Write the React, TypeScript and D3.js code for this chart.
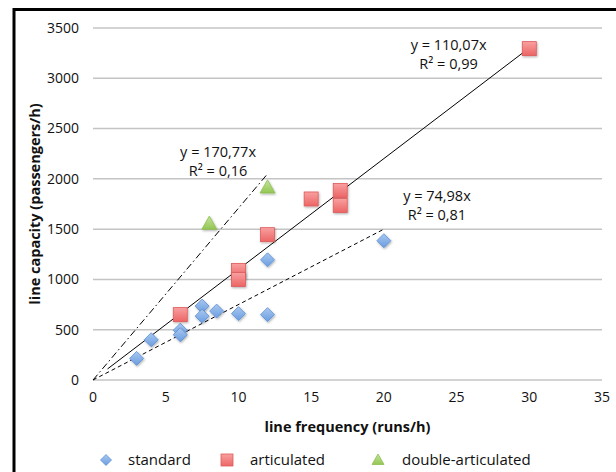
import * as d3 from "d3";

const standardX = [3, 4, 6, 6, 7.5, 7.5, 8.5, 10, 12, 12, 20];
const standardY = [215, 400, 495, 450, 735, 635, 685, 660, 1195, 650, 1385];
const articulatedX = [6, 10, 10, 12, 15, 17, 17, 30];
const articulatedY = [650, 1090, 1000, 1445, 1800, 1885, 1735, 3295];
const doubleX = [8, 12];
const doubleY = [1555, 1915];

const yTicks = [0, 500, 1000, 1500, 2000, 2500, 3000, 3500];
const xTicks = [0, 5, 10, 15, 20, 25, 30, 35];

// trendlines: slope, x range, dash, label lines, label anchor in data units
const trends = [
  { slope: 110.07, from: 1, to: 30, dash: "none", eq: "y = 110,07x", r2: "R² = 0,99", lx: 24.45, ly: 3280 },
  { slope: 170.77, from: 0, to: 12, dash: "7,3,1.5,3", eq: "y = 170,77x", r2: "R² = 0,16", lx: 8.6, ly: 2215 },
  { slope: 74.98, from: 0, to: 20, dash: "4,3", eq: "y = 74,98x", r2: "R² = 0,81", lx: 23.65, ly: 1780 },
];

const W = 616;
const H = 472;
const font = "'Open Sans', sans-serif";

export default function App() {
  const x = d3.scaleLinear([0, 35], [93, 602]);
  const y = d3.scaleLinear([0, 3500], [380, 28]);
  const line = d3.line<number>((d) => x(d[0]), (d) => y(d[1]));

  const standard = standardX.map((v, i) => [v, standardY[i]]);
  const articulated = articulatedX.map((v, i) => [v, articulatedY[i]]);
  const dbl = doubleX.map((v, i) => [v, doubleY[i]]);

  const diamond = (cx: number, cy: number, r: number) =>
    `M${cx},${cy - r}L${cx + r},${cy}L${cx},${cy + r}L${cx - r},${cy}Z`;
  const tri = (cx: number, cy: number, r: number) =>
    `M${cx},${cy - r}L${cx + r},${cy + r * 0.75}L${cx - r},${cy + r * 0.75}Z`;

  return (
    <svg width={W} height={H} style={{ position: "absolute", left: 0, top: 0, background: "white" }} fontFamily={font}>
      <defs>
        <linearGradient id="gb" x1="0" y1="0" x2="0" y2="1">
          <stop offset="0" stopColor="#a9c8f0" />
          <stop offset="1" stopColor="#6a9de0" />
        </linearGradient>
        <linearGradient id="gr" x1="0" y1="0" x2="0" y2="1">
          <stop offset="0" stopColor="#f9a0a0" />
          <stop offset="1" stopColor="#ec6565" />
        </linearGradient>
        <linearGradient id="gg" x1="0" y1="0" x2="0" y2="1">
          <stop offset="0" stopColor="#c4e39a" />
          <stop offset="1" stopColor="#93c653" />
        </linearGradient>
        <filter id="sh" x="-50%" y="-50%" width="200%" height="200%">
          <feDropShadow dx="0.8" dy="1.2" stdDeviation="0.9" floodColor="#000" floodOpacity="0.3" />
        </filter>
      </defs>
      <rect x={14} y={9.5} width={W + 20} height={H + 20} fill="white" stroke="black" strokeWidth={3} />

      {yTicks.map((t) => (
        <g key={t}>
          <line x1={x(0)} x2={x(35)} y1={y(t)} y2={y(t)} stroke="#c4c4c4" strokeWidth={1.5} />
          <text x={79} y={y(t)} dy="0.35em" textAnchor="end" fontSize={14} fill="#111">{t}</text>
        </g>
      ))}
      {xTicks.map((t) => (
        <text key={t} x={x(t)} y={402} textAnchor="middle" fontSize={14} fill="#111">{t}</text>
      ))}

      {trends.map((t) => (
        <path key={t.eq} d={line([[t.from, t.from * t.slope], [t.to, t.to * t.slope]])!}
          stroke="black" strokeWidth={1} strokeDasharray={t.dash} fill="none" />
      ))}

      {standard.map((d, i) => (
        <path key={"s" + i} d={diamond(x(d[0]), y(d[1]), 7)} fill="url(#gb)" stroke="#5d8fd4" strokeWidth={0.8} filter="url(#sh)" />
      ))}
      {articulated.map((d, i) => (
        <rect key={"a" + i} x={x(d[0]) - 7} y={y(d[1]) - 7} width={14} height={14} fill="url(#gr)" stroke="#de5a5a" strokeWidth={0.8} filter="url(#sh)" />
      ))}
      {dbl.map((d, i) => (
        <path key={"d" + i} d={tri(x(d[0]), y(d[1]), 7.5)} fill="url(#gg)" stroke="#8cbf4f" strokeWidth={0.8} filter="url(#sh)" />
      ))}

      {trends.map((t) => (
        <g key={"l" + t.eq} fontSize={14.5} fill="#111" textAnchor="middle">
          <text x={x(t.lx)} y={y(t.ly)}>{t.eq}</text>
          <text x={x(t.lx)} y={y(t.ly) + 19}>{t.r2}</text>
        </g>
      ))}

      <text x={x(17.5)} y={432} textAnchor="middle" fontSize={14.5} fontWeight="bold" fill="#111">line frequency (runs/h)</text>
      <text transform={`translate(40,${y(1750)}) rotate(-90)`} textAnchor="middle" fontSize={14.5} fontWeight="bold" fill="#111">line capacity (passengers/h)</text>

      <g fontSize={15} fill="#111">
        <path d={diamond(106, 460, 5.5)} fill="url(#gb)" stroke="#5d8fd4" strokeWidth={0.8} />
        <text x={128} y={460} dy="0.35em">standard</text>
        <rect x={221} y={454} width={12} height={12} fill="url(#gr)" stroke="#de5a5a" strokeWidth={0.8} />
        <text x={250} y={460} dy="0.35em">articulated</text>
        <path d={tri(378, 460, 6)} fill="url(#gg)" stroke="#8cbf4f" strokeWidth={0.8} />
        <text x={402} y={460} dy="0.35em">double-articulated</text>
      </g>
    </svg>
  );
}
